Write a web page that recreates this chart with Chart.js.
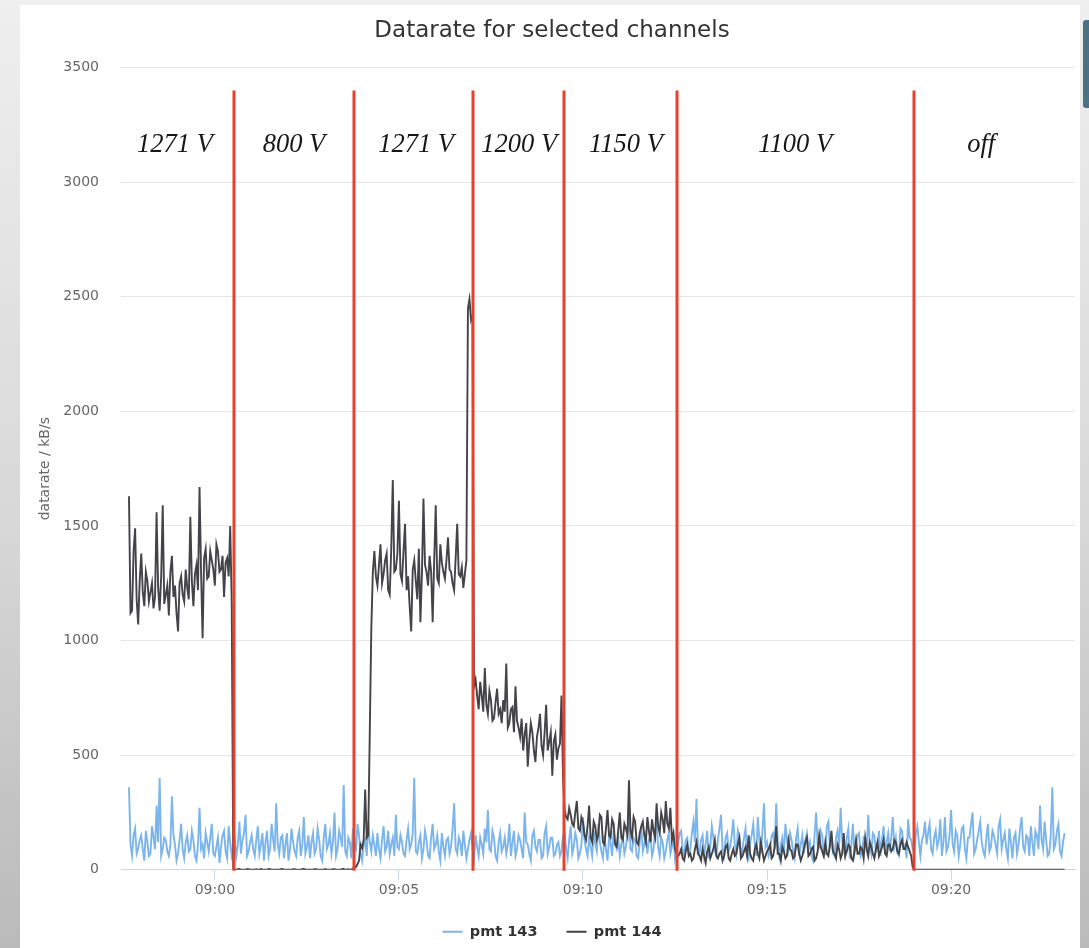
<!DOCTYPE html>
<html>
<head>
<meta charset="utf-8">
<script src="https://cdn.jsdelivr.net/npm/chart.js@4.4.1/dist/chart.umd.min.js"></script>
<style>
html, body { margin: 0; padding: 0; width: 1089px; height: 948px; overflow: hidden; }
body { position: relative; background: linear-gradient(to bottom, #efefef 0%, #d8d8d8 55%, #bababa 100%); }
#panel { position: absolute; left: 20px; top: 5px; width: 1060px; height: 943px; background: #ffffff; }
#deco { position: absolute; left: 1083px; top: 20px; width: 6px; height: 88px; background: #4a7282; border-radius: 3px 0 0 3px; }
canvas { position: absolute; left: 0; top: 0; }
</style>
</head>
<body>
<div id="panel"></div>
<div id="deco"></div>
<canvas id="chart" width="1089" height="948"></canvas>
<script>
// Sampling: one reading every 2.5 s, first reading at 08:57:40 (seconds relative to 09:00:00)
const sampleStartSec = -140;
const sampleStepSec = 2.5;

// pmt 143 datarate (kB/s)
const pmt143 = [
  360, 110, 60, 150, 180, 70, 90, 130, 150, 90, 40, 170, 120, 60, 70, 190, 140, 90, 280, 120,
  400, 60, 90, 140, 130, 80, 60, 110, 320, 150, 110, 40, 70, 130, 200, 90, 50, 120, 150, 80,
  90, 170, 130, 60, 40, 110, 270, 90, 110, 50, 160, 120, 80, 140, 200, 70, 60, 100, 140, 30,
  100, 150, 170, 80, 50, 190, 120, 60, 90, 130, 60, 110, 210, 70, 130, 160, 240, 60, 80, 120,
  150, 90, 60, 130, 190, 70, 110, 160, 40, 120, 170, 60, 90, 200, 130, 80, 290, 110, 70, 140,
  150, 50, 110, 160, 40, 90, 180, 120, 80, 60, 140, 170, 60, 110, 230, 70, 100, 150, 50, 120,
  160, 70, 90, 180, 130, 60, 40, 140, 200, 90, 110, 160, 70, 120, 250, 60, 90, 170, 140, 100,
  370, 80, 60, 140, 120, 50, 180, 110, 90, 200, 150, 70, 40, 110, 130, 60, 210, 120, 80, 150,
  110, 60, 160, 90, 50, 130, 190, 80, 100, 170, 70, 110, 140, 60, 240, 100, 90, 150, 120, 70,
  60, 130, 180, 90, 110, 160, 400, 80, 70, 120, 150, 50, 90, 170, 130, 60, 50, 140, 200, 90,
  110, 150, 80, 40, 160, 100, 60, 130, 140, 70, 100, 180, 290, 90, 70, 140, 120, 60, 170, 110,
  50, 90, 130, 160, 90, 50, 150, 100, 60, 140, 110, 70, 180, 120, 260, 90, 80, 170, 140, 60,
  40, 120, 160, 80, 100, 140, 70, 110, 200, 60, 120, 170, 60, 90, 150, 130, 90, 50, 250, 120,
  110, 70, 40, 150, 170, 100, 80, 130, 130, 50, 60, 160, 190, 70, 100, 140, 140, 60, 70, 110,
  120, 60, 80, 150, 160, 90, 50, 130, 190, 70, 100, 160, 130, 50, 70, 110, 230, 130, 90, 60,
  140, 100, 60, 170, 110, 80, 200, 120, 80, 50, 150, 90, 40, 140, 120, 60, 170, 110, 90, 140,
  60, 110, 140, 70, 100, 160, 250, 90, 80, 140, 130, 60, 50, 120, 190, 80, 110, 150, 70, 130,
  150, 60, 90, 170, 200, 100, 60, 140, 120, 50, 80, 130, 160, 70, 100, 150, 50, 90, 110, 160,
  170, 90, 60, 130, 140, 70, 90, 160, 210, 120, 310, 90, 70, 130, 150, 60, 110, 170, 50, 100,
  190, 140, 80, 60, 130, 180, 240, 90, 60, 140, 160, 80, 100, 150, 220, 110, 70, 170, 140, 60,
  90, 140, 180, 70, 50, 120, 150, 200, 110, 60, 230, 130, 70, 170, 290, 100, 120, 60, 80, 150,
  160, 90, 290, 120, 60, 110, 140, 70, 200, 130, 90, 160, 130, 80, 50, 140, 180, 60, 110, 150,
  70, 130, 160, 90, 120, 60, 40, 150, 250, 110, 100, 170, 150, 60, 70, 190, 210, 100, 130, 70,
  60, 140, 170, 100, 270, 130, 90, 60, 140, 180, 50, 110, 200, 70, 110, 150, 160, 60, 80, 140,
  130, 90, 240, 110, 70, 160, 150, 80, 100, 170, 60, 130, 190, 70, 120, 160, 80, 140, 230, 100,
  140, 70, 60, 180, 170, 110, 100, 50, 220, 140, 130, 90, 80, 160, 190, 120, 60, 130, 150, 210,
  110, 160, 200, 90, 70, 140, 170, 100, 130, 220, 60, 120, 230, 80, 100, 150, 260, 110, 80, 170,
  150, 60, 110, 180, 190, 90, 50, 140, 140, 200, 250, 70, 90, 130, 170, 210, 120, 80, 60, 140,
  200, 80, 100, 170, 150, 110, 70, 190, 220, 90, 130, 160, 90, 50, 180, 120, 50, 140, 160, 70,
  110, 180, 230, 100, 80, 150, 140, 60, 190, 120, 60, 170, 150, 90, 280, 130, 90, 210, 130, 60,
  70, 150, 360, 90, 110, 170, 200, 80, 60, 120, 160
];

// pmt 144 datarate (kB/s)
const pmt144 = [
  // 1271 V
  1630, 1120, 1130, 1390, 1490, 1180, 1070, 1260, 1380, 1210,
  1150, 1300, 1260, 1170, 1210, 1250, 1140, 1190, 1560, 1230,
  1130, 1280, 1590, 1160, 1200, 1240, 1110, 1300, 1370, 1190,
  1240, 1120, 1040, 1250, 1280, 1200, 1170, 1310, 1230, 1180,
  1540, 1260, 1150, 1290, 1330, 1220, 1670, 1300, 1010, 1360,
  1400, 1270, 1280, 1390, 1350, 1310, 1240, 1420, 1390, 1300,
  1310, 1370, 1190, 1340, 1360, 1280, 1500, 1160,
  // 800 V
  0, 0, 0, 2, 3, 0, 0, 0, 0, 3,
  2, 0, 0, 0, 0, 2, 0, 0, 4, 0,
  0, 0, 0, 3, 2, 0, 0, 0, 0, 0,
  0, 2, 3, 0, 0, 0, 0, 0, 0, 2,
  2, 0, 0, 0, 0, 3, 4, 0, 0, 0,
  0, 0, 0, 2, 2, 0, 0, 0, 0, 0,
  3, 0, 0, 0, 0, 2, 2, 0, 0, 0,
  0, 3, 3, 0, 0, 2, 0, 2,
  // 1271 V
  5, 8, 12, 25, 40, 110, 95, 130, 350, 140,
  150, 600, 1050, 1300, 1390, 1280, 1240, 1330, 1420, 1250,
  1290, 1350, 1380, 1220, 1200, 1400, 1700, 1300, 1310, 1380,
  1610, 1290, 1260, 1390, 1510, 1220, 1280, 1150, 1040, 1310,
  1350, 1260, 1180, 1400, 1080, 1290, 1620, 1330, 1300, 1240,
  1370, 1300, 1080, 1350, 1590, 1270, 1250, 1420, 1340, 1300,
  1270, 1350, 1450, 1310, 1300, 1250, 1220, 1360, 1510, 1290,
  1280, 1320, 1230, 1290, 1350, 2450, 2490, 2400, 2420, 800,
  // 1200 V
  830, 760, 700, 820, 760, 690, 880, 720, 680, 780,
  740, 650, 660, 730, 790, 680, 700, 640, 740, 690,
  900, 620, 640, 700, 710, 600, 800, 650, 620, 580,
  660, 520, 590, 640, 450, 560, 640, 600, 520, 470,
  580, 620, 680, 540, 500, 600, 720, 520, 560, 600,
  410, 560, 590, 480, 530, 550, 760, 400,
  // 1150 V
  260, 230, 220, 270, 240, 200, 190, 250, 300, 180,
  170, 230, 210, 150, 130, 190, 280, 140, 120, 210,
  190, 130, 150, 240, 230, 120, 110, 180, 260, 150,
  140, 220, 200, 110, 100, 170, 250, 140, 130, 200,
  180, 150, 390, 170, 140, 230, 210, 120, 110, 160,
  190, 210, 150, 120, 230, 170, 120, 220, 170, 140,
  290, 190, 160, 250, 220, 160, 300, 200, 180, 270,
  130, 160, 90, 70,
  // 1100 V
  60, 70, 90, 50, 40, 80, 110, 60, 70, 40, 50, 90, 120, 70, 60, 40, 90, 60, 30, 80,
  100, 50, 70, 90, 130, 60, 50, 70, 80, 40, 60, 100, 110, 50, 40, 70, 90, 60, 70, 110,
  140, 50, 60, 80, 100, 60, 150, 70, 50, 40, 90, 110, 70, 50, 120, 80, 40, 60, 80, 90,
  110, 50, 60, 100, 190, 70, 70, 40, 100, 80, 50, 60, 130, 90, 80, 50, 60, 110, 110, 70,
  40, 60, 90, 120, 140, 60, 70, 90, 100, 40, 50, 80, 150, 100, 80, 60, 120, 70, 60, 110,
  170, 80, 70, 50, 110, 90, 50, 70, 160, 60, 80, 110, 100, 50, 40, 80, 130, 70, 70, 100,
  90, 50, 140, 90, 60, 120, 100, 70, 50, 90, 120, 60, 80, 100, 130, 70, 60, 110, 110, 80,
  90, 130, 120, 80, 70, 110, 130, 90, 90, 120, 100, 80, 60, 10,
  // off
  0, 0, 0, 0, 0, 0, 0, 0, 0, 0,
  0, 0, 0, 0, 0, 0, 0, 0, 0, 0,
  0, 0, 0, 0, 0, 0, 0, 0, 0, 0,
  0, 0, 0, 0, 0, 0, 0, 0, 0, 0,
  0, 0, 0, 0, 0, 0, 0, 0, 0, 0,
  0, 0, 0, 0, 0, 0, 0, 0, 0, 0,
  0, 0, 0, 0, 0, 0, 0, 0, 0, 0,
  0, 0, 0, 0, 0, 0, 0, 0, 0, 0,
  0, 0, 0, 0, 0, 0, 0, 0, 0, 0,
  0, 0, 0, 0, 0, 0, 0, 0, 0
];

// High-voltage settings: switch instants and the label of each phase
const switchTimesSec = [31, 227, 421, 569, 753, 1140];
const voltageLabels = ['1271 V', '800 V', '1271 V', '1200 V', '1150 V', '1100 V', 'off'];
const voltageLabelTimesSec = [-65, 129, 328, 496, 670, 946, 1249];
const markerTopValue = 3400;
const labelBaselineValue = 3130;

// Axes
const xRangeSec = [-153, 1402];
const xTickSeconds = [0, 300, 600, 900, 1200];
const xTickLabels = ['09:00', '09:05', '09:10', '09:15', '09:20'];
const yTickValues = [0, 500, 1000, 1500, 2000, 2500, 3000, 3500];

const toPoints = arr => arr.map((v, i) => ({ x: sampleStartSec + i * sampleStepSec, y: v }));

const phaseMarkers = {
  id: 'phaseMarkers',
  afterDatasetsDraw(chart) {
    const { ctx, scales: { x, y } } = chart;
    ctx.save();
    ctx.strokeStyle = '#e8412b';
    ctx.lineWidth = 3;
    const yBottom = y.getPixelForValue(0) + 1;
    const yTop = y.getPixelForValue(markerTopValue);
    switchTimesSec.forEach(t => {
      const px = Math.round(x.getPixelForValue(t));
      ctx.beginPath();
      ctx.moveTo(px, yBottom);
      ctx.lineTo(px, yTop);
      ctx.stroke();
    });
    ctx.font = 'italic 26.5px "Liberation Serif", "Times New Roman", serif';
    ctx.fillStyle = '#161616';
    ctx.textAlign = 'center';
    ctx.textBaseline = 'alphabetic';
    const by = y.getPixelForValue(labelBaselineValue);
    voltageLabels.forEach((s, i) => {
      ctx.fillText(s, x.getPixelForValue(voltageLabelTimesSec[i]), by);
    });
    ctx.restore();
  }
};

Chart.defaults.font.family = '"DejaVu Sans", sans-serif';
Chart.defaults.color = '#666666';

new Chart(document.getElementById('chart'), {
  type: 'line',
  data: {
    datasets: [
      {
        label: 'pmt 143',
        data: toPoints(pmt143),
        borderColor: '#7cb5ec',
        backgroundColor: '#7cb5ec',
        borderWidth: 1.9,
        pointRadius: 0,
        tension: 0,
        order: 2
      },
      {
        label: 'pmt 144',
        data: toPoints(pmt144),
        borderColor: '#434348',
        backgroundColor: '#434348',
        borderWidth: 1.9,
        pointRadius: 0,
        tension: 0,
        order: 1
      }
    ]
  },
  options: {
    responsive: false,
    animation: false,
    devicePixelRatio: 1,
    layout: { padding: { left: 29, right: 14, top: 5, bottom: -1 } },
    plugins: {
      tooltip: { enabled: false },
      title: {
        display: true,
        text: 'Datarate for selected channels',
        color: '#333333',
        font: { size: 23, weight: 'normal' },
        padding: { top: 12, bottom: 23 }
      },
      legend: {
        position: 'bottom',
        labels: {
          boxWidth: 20,
          boxHeight: 2,
          padding: 29,
          color: '#333333',
          font: { size: 14.5, weight: 'bold' },
          sort: (a, b) => a.datasetIndex - b.datasetIndex,
          generateLabels: chart =>
            Chart.defaults.plugins.legend.labels.generateLabels(chart).map(l => Object.assign(l, { lineWidth: 0 }))
        }
      }
    },
    scales: {
      x: {
        type: 'linear',
        min: xRangeSec[0],
        max: xRangeSec[1],
        afterFit: s => { s.height = 25.75; },
        afterBuildTicks: s => { s.ticks = xTickSeconds.map(v => ({ value: v })); },
        grid: { drawOnChartArea: false, drawTicks: true, tickLength: 10, color: '#ccd6eb' },
        border: { display: true, color: '#ccd6eb' },
        ticks: {
          padding: 2,
          maxRotation: 0,
          font: { size: 14 },
          color: '#666666',
          callback: v => xTickLabels[xTickSeconds.indexOf(v)]
        }
      },
      y: {
        min: 0,
        max: 3500,
        afterFit: s => { s.width = 92; },
        afterBuildTicks: s => { s.ticks = yTickValues.map(v => ({ value: v })); },
        grid: {
          drawTicks: false,
          color: c => (c.tick && c.tick.value === 0) ? 'rgba(0,0,0,0)' : '#e6e6e6'
        },
        border: { display: false },
        ticks: {
          padding: 22,
          font: { size: 14 },
          color: '#666666',
          callback: v => String(v)
        },
        title: {
          display: true,
          text: 'datarate / kB/s',
          color: '#666666',
          font: { size: 14 },
          padding: { top: 8, bottom: 0 }
        }
      }
    }
  },
  plugins: [phaseMarkers]
});
</script>
</body>
</html>
